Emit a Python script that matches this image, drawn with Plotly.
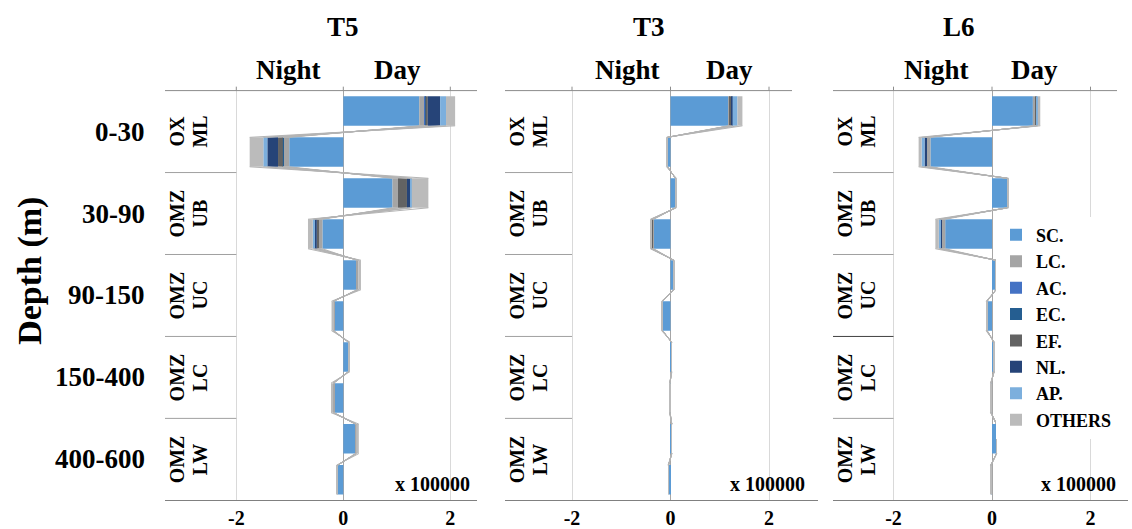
import plotly.graph_objects as go

W, H = 1132, 529

# ---------------- data (values x 100000; night plotted negative) ----------------
SPECIES = ["SC.", "LC.", "AC.", "EC.", "EF.", "NL.", "AP.", "OTHERS"]
STATIONS = ["T5", "T3", "L6"]
ZONE_TOP = ["OX", "OMZ", "OMZ", "OMZ", "OMZ"]
ZONE_BOT = ["ML", "UB", "UC", "LC", "LW"]
DEPTHS = ["0-30", "30-90", "90-150", "150-400", "400-600"]
# row order: ML day, ML night, UB day, UB night, UC day, UC night, LC day, LC night, LW day, LW night
ROWS = list(range(10))

T5_SC = [1.42, -1.01, 0.92, -0.39, 0.25, -0.17, 0.09, -0.17, 0.22, -0.10]
T5_LC = [0.10, -0.10, 0.10, -0.075, 0.03, -0.02, 0.01, -0.02, 0.02, -0.005]
T5_AC = [0.01, -0.01, 0.0, 0.0, 0.0, 0.0, 0.0, 0.0, 0.0, 0.0]
T5_EC = [0.01, -0.01, 0.0, 0.0, 0.0, 0.0, 0.0, 0.0, 0.0, 0.0]
T5_EF = [0.04, -0.09, 0.17, -0.03, 0.0, 0.0, 0.0, 0.0, 0.0, 0.0]
T5_NL = [0.23, -0.20, 0.06, -0.05, 0.0, 0.0, 0.0, 0.0, 0.0, 0.0]
T5_AP = [0.11, -0.075, 0.03, -0.025, 0.0, 0.0, 0.0, 0.0, 0.0, 0.0]
T5_OT = [0.17, -0.255, 0.31, -0.09, 0.05, -0.03, 0.025, -0.04, 0.05, -0.02]

T3_SC = [1.17, -0.06, 0.10, -0.34, 0.065, -0.16, 0.02, -0.01, 0.025, -0.04]
T3_LC = [0.03, 0.0, 0.0, -0.02, 0.0, 0.0, 0.0, 0.0, 0.0, 0.0]
T3_AC = [0.0, 0.0, 0.0, 0.0, 0.0, 0.0, 0.0, 0.0, 0.0, 0.0]
T3_EC = [0.0, 0.0, 0.0, 0.0, 0.0, 0.0, 0.0, 0.0, 0.0, 0.0]
T3_EF = [0.04, 0.0, 0.0, -0.02, 0.0, 0.0, 0.0, 0.0, 0.0, 0.0]
T3_NL = [0.02, 0.0, 0.0, -0.01, 0.0, 0.0, 0.0, 0.0, 0.0, 0.0]
T3_AP = [0.10, 0.0, 0.0, 0.0, 0.0, 0.0, 0.0, 0.0, 0.0, 0.0]
T3_OT = [0.10, -0.02, 0.02, -0.02, 0.01, -0.02, 0.01, -0.01, 0.005, -0.01]

L6_SC = [0.83, -1.25, 0.31, -0.95, 0.08, -0.10, 0.04, -0.02, 0.09, -0.02]
L6_LC = [0.05, -0.08, 0.0, -0.07, 0.0, 0.0, 0.0, 0.0, 0.0, 0.0]
L6_AC = [0.0, 0.0, 0.0, 0.0, 0.0, 0.0, 0.0, 0.0, 0.0, 0.0]
L6_EC = [0.0, 0.0, 0.0, 0.0, 0.0, 0.0, 0.0, 0.0, 0.0, 0.0]
L6_EF = [0.02, 0.0, 0.0, 0.0, 0.0, 0.0, 0.0, 0.0, 0.0, 0.0]
L6_NL = [0.0, -0.04, 0.0, -0.03, 0.0, 0.0, 0.0, 0.0, 0.0, 0.0]
L6_AP = [0.03, -0.06, 0.0, -0.03, 0.0, 0.0, 0.0, 0.0, 0.0, 0.0]
L6_OT = [0.05, -0.06, 0.03, -0.07, 0.01, -0.02, 0.01, -0.01, 0.01, -0.01]

DATA = {
    "T5": [T5_SC, T5_LC, T5_AC, T5_EC, T5_EF, T5_NL, T5_AP, T5_OT],
    "T3": [T3_SC, T3_LC, T3_AC, T3_EC, T3_EF, T3_NL, T3_AP, T3_OT],
    "L6": [L6_SC, L6_LC, L6_AC, L6_EC, L6_EF, L6_NL, L6_AP, L6_OT],
}

TICKS = [-2, 0, 2]
TICK_TEXT = ["-2", "0", "2"]

# ---------------- styling / layout ----------------
COLORS = ["#5B9BD5", "#A5A5A5", "#4472C4", "#255E91", "#636363", "#264478", "#7CAFDD", "#BBBBBB"]
FONT = "Liberation Serif"
BAR_W = 0.72
TOP_PX, BOT_PX = 92, 508

PANELS = {
    "T5": dict(left=165, right=477, zero=343.3, ppu=53.5, top_right=477,
               title_x=343, night_x=288, day_x=397, note_x=472),
    "T3": dict(left=505, right=818, zero=670.5, ppu=49.25, top_right=792,
               title_x=649, night_x=627, day_x=729, note_x=807),
    "L6": dict(left=833, right=1128, zero=992.0, ppu=49.25, top_right=1117,
               title_x=959, night_x=936, day_x=1034, note_x=1118),
}


def px(x):
    return x / W


def py(y):
    return 1 - y / H


def txt(text, x, y, size, xref="paper", yref="paper", xanchor="center", angle=0):
    return dict(text="<b>%s</b>" % text, x=x, y=y, xref=xref, yref=yref,
                xanchor=xanchor, yanchor="middle", textangle=angle, showarrow=False,
                font=dict(family=FONT, size=size, color="#000000"))


fig = go.Figure()
shapes = []
annotations = []

for i, st in enumerate(STATIONS):
    n = "" if i == 0 else str(i + 1)
    xa, ya = "x" + n, "y" + n
    p = PANELS[st]
    xr = [(p["left"] - p["zero"]) / p["ppu"], (p["right"] - p["zero"]) / p["ppu"]]
    series = DATA[st]

    for k, (name, vals) in enumerate(zip(SPECIES, series)):
        fig.add_trace(go.Bar(
            x=vals, y=ROWS, orientation="h", name=name, width=BAR_W,
            marker=dict(color=COLORS[k], line=dict(width=0)),
            legendgroup=name, showlegend=(i == 0),
            xaxis=xa, yaxis=ya,
        ))

    # series lines (connect ends of each stacked segment between consecutive bars)
    lx, ly = [], []
    cum = [0.0] * len(ROWS)
    for vals in series:
        cum = [c + v for c, v in zip(cum, vals)]
        for r in range(len(ROWS) - 1):
            lx += [cum[r], cum[r + 1], None]
            ly += [ROWS[r] + BAR_W / 2, ROWS[r + 1] - BAR_W / 2, None]
    fig.add_trace(go.Scatter(x=lx, y=ly, mode="lines", line=dict(color="#B4B4B4", width=1),
                             showlegend=False, hoverinfo="skip", xaxis=xa, yaxis=ya))

    dom = [px(p["left"]), px(p["right"])]
    fig.layout["xaxis" + n] = dict(
        domain=dom, range=xr, anchor=ya, tickvals=TICKS, ticktext=["<b>%s</b>" % t for t in TICK_TEXT],
        showgrid=True, gridcolor="#D9D9D9", gridwidth=1,
        zeroline=True, zerolinecolor="#A6A6A6", zerolinewidth=1,
        showline=True, linecolor="#808080", linewidth=1, ticks="",
        tickfont=dict(family=FONT, size=20, color="#000000"), fixedrange=True,
    )
    fig.layout["yaxis" + n] = dict(
        domain=[py(BOT_PX), py(TOP_PX)], range=[9.5, -0.5], anchor=xa,
        showgrid=False, zeroline=False, showticklabels=False, showline=False, fixedrange=True,
    )

    # top axis line with small ticks
    shapes.append(dict(type="line", xref="paper", yref="paper", x0=px(p["left"]), x1=px(p["top_right"]),
                       y0=py(TOP_PX), y1=py(TOP_PX), line=dict(color="#8C8C8C", width=1)))
    for t in TICKS:
        shapes.append(dict(type="line", xref=xa, yref="paper", x0=t, x1=t,
                           y0=py(TOP_PX), y1=py(TOP_PX - 4), line=dict(color="#8C8C8C", width=1)))
    # zone separators in the label column
    for z in range(1, len(ZONE_BOT)):
        yv = 2 * z - 0.5
        shapes.append(dict(type="line", xref=xa, yref=ya, x0=xr[0], x1=TICKS[0], y0=yv, y1=yv,
                           line=dict(color="#404040" if (st == "L6" and z == 3) else "#A0A0A0", width=1)))

    annotations.append(txt(st, px(p["title_x"]), py(27), 27))
    annotations.append(txt("Night", px(p["night_x"]), py(71), 27))
    annotations.append(txt("Day", px(p["day_x"]), py(71), 27))
    annotations.append(txt("x 100000", px(p["note_x"]), py(491), 20, xanchor="right"))
    for z in range(len(ZONE_BOT)):
        yc = 2 * z + 0.5
        annotations.append(txt(ZONE_TOP[z], px(p["left"] + 12), yc, 20, yref=ya, angle=-90))
        annotations.append(txt(ZONE_BOT[z], px(p["left"] + 35), yc, 20, yref=ya, angle=-90))

for z, d in enumerate(DEPTHS):
    annotations.append(txt(d, px(147), 2 * z + 0.5, 27, yref="y", xanchor="right"))
annotations.append(txt("Depth (m)", px(30), py(275), 34, angle=-90))

fig.update_layout(
    width=W, height=H, margin=dict(l=0, r=0, t=0, b=0),
    paper_bgcolor="white", plot_bgcolor="white",
    barmode="relative", bargap=0.28,
    shapes=shapes, annotations=annotations,
    legend=dict(x=px(996), y=py(220), xanchor="left", yanchor="top", bgcolor="white",
                font=dict(family=FONT, size=18, color="#000", weight="bold"),
                tracegroupgap=0, itemclick=False, itemdoubleclick=False),
    showlegend=True,
)

fig.write_html("out.html")
